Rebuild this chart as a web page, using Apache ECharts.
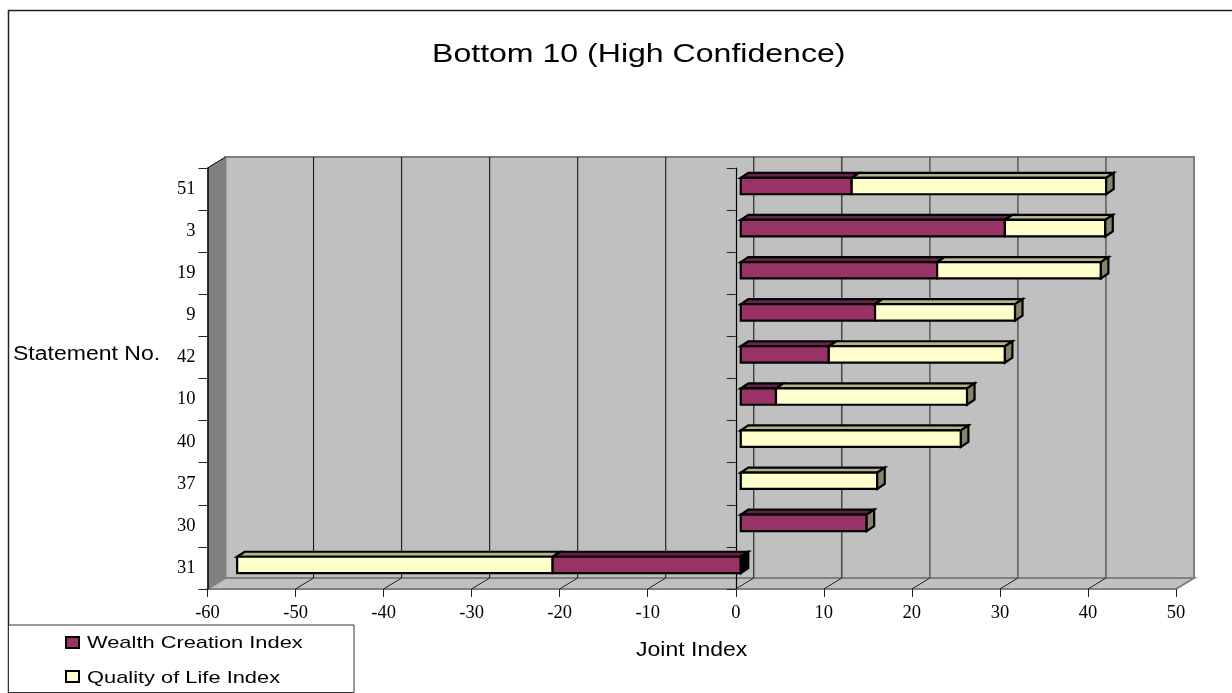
<!DOCTYPE html>
<html>
<head>
<meta charset="utf-8">
<style>html,body{margin:0;padding:0;background:#fff}#chart{width:1232px;height:693px}</style>
<script src="https://cdn.jsdelivr.net/npm/echarts@6/dist/echarts.min.js"></script>
</head>
<body>
<div id="chart"></div>
<script>
// Statement numbers, top to bottom
const statements = ['51','3','19','9','42','10','40','37','30','31'];
// Index scores per statement
const wealthCreation = [12.6, 30, 22.3, 15.25, 10, 4, 0, 0, 14.3, -21.4];
const qualityOfLife = [28.9, 11.4, 18.6, 15.9, 20, 21.7, 25, 15.5, 0, -35.8];
const gridValues = [-50, -40, -30, -20, -10, 0, 10, 20, 30, 40];

// Oblique offsets of the 3D projection, in pixels
const WALL_DX = 18, WALL_DY = -11;
const BAR_DX = 7.5, BAR_DY = -5, BAR_SHIFT_X = 5, BAR_SHIFT_Y = -3;
const BAR_FRACTION = 0.39;

function poly(points, fill, stroke, width) {
  return {type: 'polygon', shape: {points}, style: {fill, stroke: stroke || 'none', lineWidth: width || 0}, silent: true};
}
function seg(x1, y1, x2, y2, stroke, width) {
  return {type: 'line', shape: {x1, y1, x2, y2}, style: {stroke, lineWidth: width, fill: 'none'}, silent: true};
}

// Side wall, back wall and floor of the plot box
function renderWalls(params, api) {
  const band = api.size([0, 1])[1];
  const last = statements.length - 1;
  const topY = api.coord([0, 0])[1] - band / 2, botY = api.coord([0, last])[1] + band / 2;
  const leftX = api.coord([-60, 0])[0], rightX = api.coord([50, 0])[0];
  const dx = WALL_DX, dy = WALL_DY, edge = '#808080';
  const children = [
    poly([[leftX + dx, topY + dy], [rightX + dx, topY + dy], [rightX + dx, botY + dy], [leftX + dx, botY + dy]], '#c0c0c0', edge, 2),
    poly([[leftX, botY], [rightX, botY], [rightX + dx, botY + dy], [leftX + dx, botY + dy]], '#c0c0c0', edge, 2),
    poly([[leftX, topY], [leftX + dx, topY + dy], [leftX + dx, botY + dy], [leftX, botY]], '#808080'),
    seg(leftX, topY, leftX + dx, topY + dy, '#000', 1)
  ];
  gridValues.forEach(v => {
    const x = api.coord([v, 0])[0];
    children.push(seg(x + dx, botY + dy, x + dx, topY + dy, v >= 20 ? '#606060' : '#1a1a1a', v >= 20 ? 1.6 : 1.1));
    children.push(seg(x, botY, x + dx, botY + dy, '#222', 1));
  });
  return {type: 'group', children};
}

// One stacked segment drawn as a box: front, top and, when asked, end face
function renderBox(colors, capFill) {
  return function (params, api) {
    const a = api.coord([api.value(0), api.value(2)]);
    const b = api.coord([api.value(1), api.value(2)]);
    const h = api.size([0, 1])[1] * BAR_FRACTION;
    const y0 = a[1] - h / 2 + BAR_SHIFT_Y, y1 = y0 + h;
    const xa = a[0] + BAR_SHIFT_X, xb = b[0] + BAR_SHIFT_X;
    const left = Math.min(xa, xb), right = Math.max(xa, xb);
    const children = [];
    if (right - left > 0.01) {
      children.push(poly([[left, y0], [left + BAR_DX, y0 + BAR_DY], [right + BAR_DX, y0 + BAR_DY], [right, y0]], colors.top, '#000', 2.2));
      children.push(poly([[left, y0], [right, y0], [right, y1], [left, y1]], colors.front, '#000', 2.2));
    }
    const fill = capFill(api.value(0), api.value(1));
    if (fill) {
      children.push(poly([[right, y0], [right + BAR_DX, y0 + BAR_DY], [right + BAR_DX, y1 + BAR_DY], [right, y1]], fill, '#000', 2.2));
    }
    return {type: 'group', children};
  };
}

// Segment ends accumulated along each row
const wealthSpans = wealthCreation.map((v, i) => [0, v, i]);
const qualitySpans = qualityOfLife.map((v, i) => [wealthCreation[i], wealthCreation[i] + v, i]);

const serifFont = '"Liberation Serif"', sansFont = '"Liberation Sans"';
const legendNames = ['Wealth Creation Index', 'Quality of Life Index'];
const wealthColor = '#993366', qualityColor = '#ffffcc';

// Horizontally stretched caption
function caption(text, x, y, size, scaleX) {
  return {
    type: 'text', z: 12, silent: true, x, y, scaleX, scaleY: 1,
    style: {text, x: 0, y: 0, align: 'left', verticalAlign: 'middle', fontFamily: sansFont, fontSize: size, fill: '#000'}
  };
}
function swatch(x, y, fill) {
  return {type: 'rect', z: 12, silent: true, shape: {x, y, width: 13, height: 11}, style: {fill, stroke: '#000', lineWidth: 2}};
}

const option = {
  animation: false,
  backgroundColor: '#fff',
  grid: {left: 207.5, right: 56, top: 168, bottom: 104, containLabel: false},
  xAxis: {
    type: 'value', min: -60, max: 50, interval: 10, z: 2,
    axisLine: {onZero: false, lineStyle: {color: '#000', width: 1.5}},
    axisTick: {show: true, length: 8, lineStyle: {color: '#222', width: 1}},
    splitLine: {show: false},
    axisLabel: {fontFamily: serifFont, fontSize: 18.5, color: '#000', margin: 15}
  },
  yAxis: [{
    type: 'category', data: statements, inverse: true, z: 2,
    axisLine: {onZero: false, lineStyle: {color: '#000', width: 1.5}},
    axisTick: {show: true, length: 9, lineStyle: {color: '#222', width: 1}},
    axisLabel: {fontFamily: serifFont, fontSize: 18.5, color: '#000', margin: 12},
    splitLine: {show: false}
  }, {
    type: 'category', data: statements, inverse: true, position: 'left', z: 2,
    axisLine: {onZero: true, lineStyle: {color: '#000', width: 1.2}},
    axisTick: {show: true, length: 9, lineStyle: {color: '#222', width: 1}},
    axisLabel: {show: false},
    splitLine: {show: false}
  }],
  series: [
    {type: 'custom', z: 0, clip: false, silent: true, data: [[0, 0, 0]], encode: {x: 0, y: 2}, renderItem: renderWalls},
    {
      name: legendNames[0], type: 'custom', z: 3, clip: false, silent: true,
      itemStyle: {color: wealthColor}, encode: {x: [0, 1], y: 2}, data: wealthSpans,
      renderItem: renderBox({front: wealthColor, top: '#66234a'}, (s, e) => e < s ? '#000' : null)
    },
    {
      name: legendNames[1], type: 'custom', z: 4, clip: false, silent: true,
      itemStyle: {color: qualityColor}, encode: {x: [0, 1], y: 2}, data: qualitySpans,
      renderItem: renderBox({front: qualityColor, top: '#b3b38c'}, (s, e) => e >= s ? '#85856a' : null)
    }
  ],
  graphic: [
    {type: 'polyline', z: 10, silent: true, shape: {points: [[8.5, 693], [8.5, 10.5], [1232, 10.5]]}, style: {stroke: '#222', lineWidth: 1.5, fill: 'none'}},
    caption('Bottom 10 (High Confidence)', 432, 55, 26.5, 1.21),
    caption('Statement No.', 13, 355, 19.5, 1.18),
    caption('Joint Index', 636, 651, 19.5, 1.18),
    {type: 'rect', z: 11, silent: true, shape: {x: 8.5, y: 625, width: 345.5, height: 67.5}, style: {fill: '#fff', stroke: '#333', lineWidth: 1}},
    swatch(66, 637, wealthColor),
    swatch(66, 671, qualityColor),
    caption(legendNames[0], 87, 643, 17, 1.285),
    caption(legendNames[1], 87, 678, 17, 1.285)
  ]
};

echarts.init(document.getElementById('chart')).setOption(option);
</script>
</body>
</html>
